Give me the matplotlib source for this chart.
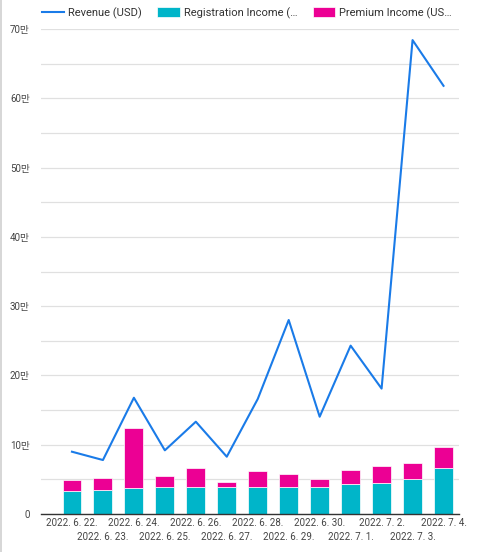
import numpy as np
from matplotlib import pyplot as plt
from matplotlib.ticker import FuncFormatter, MultipleLocator
from matplotlib.lines import Line2D

plt.rcParams['font.family'] = ['Roboto', 'Noto Sans CJK KR', 'DejaVu Sans']

dates = ['2022. 6. 22.', '2022. 6. 23.', '2022. 6. 24.', '2022. 6. 25.', '2022. 6. 26.',
         '2022. 6. 27.', '2022. 6. 28.', '2022. 6. 29.', '2022. 6. 30.', '2022. 7. 1.',
         '2022. 7. 2.', '2022. 7. 3.', '2022. 7. 4.']
revenue = [89900, 77900, 167800, 91900, 133200, 82700, 166000, 280000, 140400, 243000,
           181000, 684000, 618000]
registration = [33200, 34600, 37000, 39400, 39400, 39000, 39000, 39000, 39000, 42800,
                44300, 51000, 66000]
premium = [16300, 16900, 86600, 15400, 27000, 7600, 23000, 18200, 11500, 20700,
           24500, 22600, 30700]

blue = '#1a7be8'
cyan = '#00b5c9'
pink = '#ec0094'

fig = plt.figure(figsize=(4.8, 5.52), dpi=100)
ax = fig.add_axes([41/480, 1 - 514/552, 418/480, 485/552])

x = np.arange(len(dates))
ax.plot(x, revenue, color=blue, linewidth=1.5, label='Revenue (USD)', zorder=3)
ax.bar(x, registration, 0.61, color=cyan, edgecolor='white', linewidth=0.5,
       label='Registration Income (…', zorder=2)
ax.bar(x, premium, 0.61, bottom=registration, color=pink, edgecolor='white', linewidth=0.5,
       label='Premium Income (US…', zorder=2)

ax.set_xlim(-1.0, 12.5)
ax.set_ylim(0, 700000)
ax.yaxis.set_major_locator(MultipleLocator(100000))
ax.yaxis.set_minor_locator(MultipleLocator(50000))
ax.yaxis.set_major_formatter(FuncFormatter(lambda v, p: '0' if v == 0 else '%d만' % (v / 10000)))
ax.grid(True, axis='y', which='both', color='#e0e0e0', linewidth=0.9, zorder=0)

# staggered date labels: even ones on the first row, odd ones on the second
ax.set_xticks(x[::2])
ax.set_xticklabels(dates[::2])
ax.set_xticks(x[1::2], minor=True)
ax.set_xticklabels(dates[1::2], minor=True)
ax.tick_params(axis='both', which='both', length=0, labelsize=7, colors='#444444')
ax.tick_params(axis='x', which='major', pad=3)
ax.tick_params(axis='x', which='minor', pad=13)
ax.tick_params(axis='y', pad=8)

for s in ['top', 'right', 'left']:
    ax.spines[s].set_visible(False)
ax.spines['bottom'].set_color('#333333')
ax.spines['bottom'].set_linewidth(1.0)
ax.spines['bottom'].set_zorder(4)

ax.legend(loc='center left',
          bbox_to_anchor=(32/480, 1 - 13/552), bbox_transform=fig.transFigure,
          ncol=3, frameon=False, fontsize=8, handlelength=2.0, handleheight=1.0,
          handletextpad=0.35, columnspacing=1.4, labelcolor='#333333')

fig.add_artist(Line2D([0.002, 0.002], [0, 1], transform=fig.transFigure,
                      color='#d0d0d0', linewidth=1.2))

fig.savefig('out.png', dpi=100, facecolor='white')
